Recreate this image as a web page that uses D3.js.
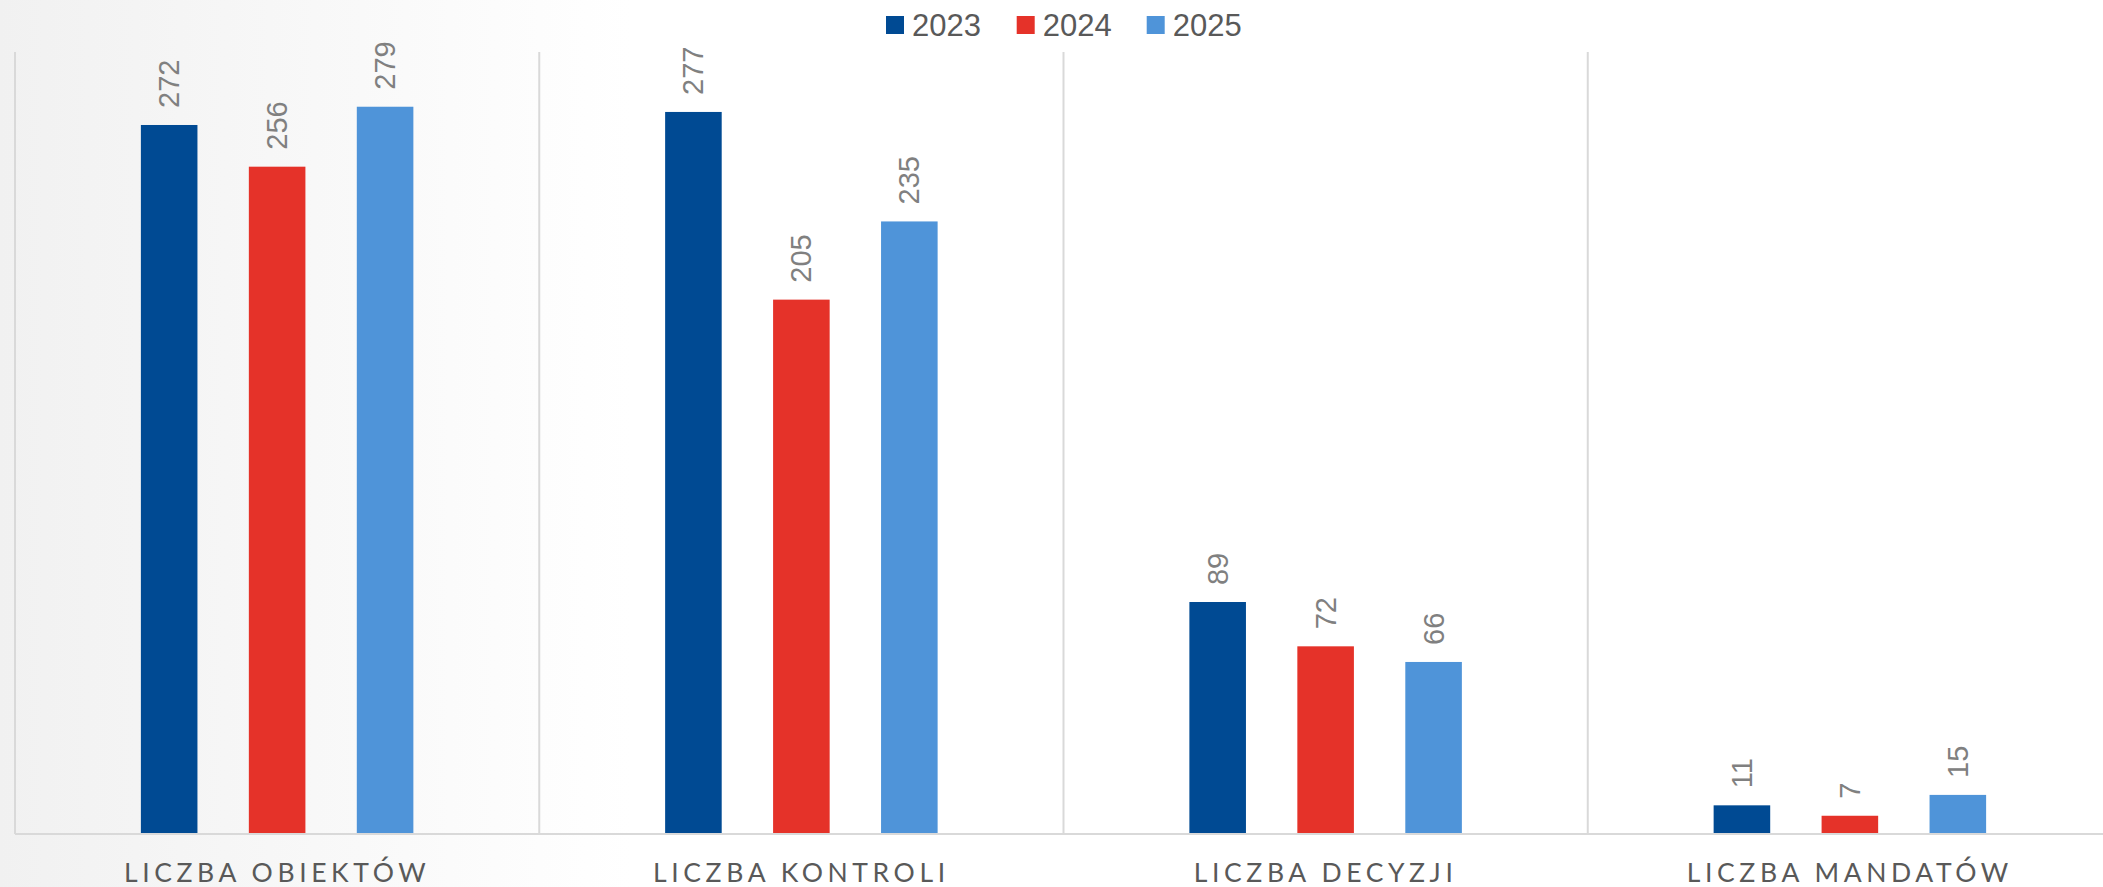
<!DOCTYPE html>
<html><head><meta charset="utf-8">
<script src="https://cdn.jsdelivr.net/npm/d3@7"></script>
<style>html,body{margin:0;padding:0;background:#fff;overflow:hidden}</style>
</head><body>
<svg id="chart" width="2103" height="887"></svg>
<script>
const categories = ["LICZBA OBIEKTÓW", "LICZBA KONTROLI", "LICZBA DECYZJI", "LICZBA MANDATÓW"];
const seriesNames = ["2023", "2024", "2025"];
const values2023 = [272, 277, 89, 11];
const values2024 = [256, 205, 72, 7];
const values2025 = [279, 235, 66, 15];
const colors = ["#004a93", "#e53229", "#4f94d9"];

const seriesValues = [values2023, values2024, values2025];
const W = 2103, H = 887;
const svg = d3.select("#chart");

// background gradient
const defs = svg.append("defs");
const grad = defs.append("linearGradient").attr("id", "bg").attr("x1", "0").attr("x2", "1").attr("y1", "0").attr("y2", "0");
grad.append("stop").attr("offset", "0").attr("stop-color", "#f1f1f1");
grad.append("stop").attr("offset", "0.3").attr("stop-color", "#ffffff");
svg.append("rect").attr("width", W).attr("height", H).attr("fill", "url(#bg)");

const plotLeft = 15, plotRight = 2112, plotTop = 52, plotBottom = 834;

const x0 = d3.scaleBand().domain(categories).range([plotLeft, plotRight]).padding(0);
const bw = x0.bandwidth();
const x1 = d3.scaleBand().domain(seriesNames).range([0, bw]).paddingInner(0.476).paddingOuter(1.166);
const y = d3.scaleLinear().domain([0, 300]).range([plotBottom, plotTop]);

// vertical separators (category boundaries)
const g = svg.append("g");
categories.forEach(c => {
  g.append("line").attr("x1", x0(c)).attr("x2", x0(c)).attr("y1", plotTop).attr("y2", plotBottom)
    .attr("stroke", "#d9d9d9").attr("stroke-width", 2);
});

// bars
const rows = [];
categories.forEach((c, ci) => seriesNames.forEach((s, si) => rows.push({c, s, si, v: seriesValues[si][ci]})));
svg.append("g").selectAll("rect").data(rows).join("rect")
  .attr("x", d => x0(d.c) + x1(d.s))
  .attr("width", x1.bandwidth())
  .attr("y", d => y(d.v))
  .attr("height", d => y(0) - y(d.v))
  .attr("fill", d => colors[d.si]);

// value labels (rotated)
svg.append("g").selectAll("text").data(rows).join("text")
  .attr("transform", d => `translate(${x0(d.c) + x1(d.s) + x1.bandwidth() / 2 + 10},${y(d.v) - 17}) rotate(-90)`)
  .attr("text-anchor", "start")
  .attr("font-family", "Liberation Sans, Arial, sans-serif")
  .attr("font-size", 29)
  .attr("fill", "#808080")
  .text(d => d.v);

// baseline axis
const xAxis = d3.axisBottom(x0).tickSize(0).tickPadding(0);
const ax = svg.append("g").attr("transform", `translate(0,${plotBottom})`).call(xAxis);
ax.select(".domain").attr("stroke", "#d9d9d9").attr("stroke-width", 2).attr("d", `M${plotLeft},0H${plotRight}`);
ax.selectAll("text")
  .attr("y", 48).attr("dy", null)
  .attr("font-family", "Lato, sans-serif")
  .attr("font-size", 26.5)
  .attr("letter-spacing", "4.6px")
  .attr("fill", "#595959");

// legend
const legendX = [886, 1016.7, 1146.7];
const lg = svg.append("g");
seriesNames.forEach((s, i) => {
  lg.append("rect").attr("x", legendX[i]).attr("y", 16).attr("width", 18).attr("height", 18).attr("fill", colors[i]);
  lg.append("text").attr("x", legendX[i] + 26).attr("y", 36)
    .attr("font-family", "Liberation Sans, Arial, sans-serif").attr("font-size", 31)
    .attr("fill", "#595959").text(s);
});
</script>
</body></html>
